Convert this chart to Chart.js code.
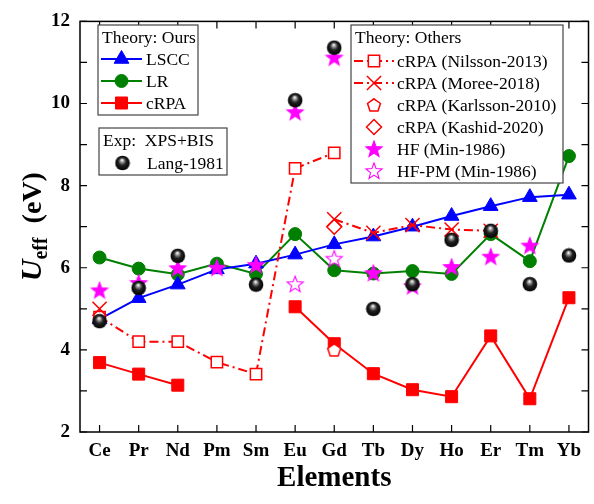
<!DOCTYPE html>
<html>
<head>
<meta charset="utf-8">
<script src="https://cdn.jsdelivr.net/npm/chart.js@4.4.1/dist/chart.umd.min.js"></script>
<style>
  html, body { margin: 0; padding: 0; background: #fff; overflow: hidden; }
  #wrap { width: 594px; height: 504px; overflow: hidden; }
</style>
</head>
<body>
<div id="wrap"><canvas id="grafico_ueff" width="600" height="504"></canvas></div>
<script>
// valores (eV)
const elementos = ['Ce', 'Pr', 'Nd', 'Pm', 'Sm', 'Eu', 'Gd', 'Tb', 'Dy', 'Ho', 'Er', 'Tm', 'Yb'];
const lscc = [4.75, 5.26, 5.59, 5.96, 6.1, 6.32, 6.57, 6.76, 7.0, 7.26, 7.5, 7.72, 7.78];
const lr = [6.25, 5.98, 5.84, 6.1, 5.85, 6.82, 5.94, 5.86, 5.92, 5.85, 6.82, 6.16, 8.72];
const crpa = [3.69, 3.41, 3.14, null, null, 5.05, 4.15, 3.42, 3.03, 2.86, 4.34, 2.81, 5.27];
const nilsson2013 = [4.8, 4.2, 4.2, 3.7, 3.41, 8.42, 8.8, null, null, null, null, null, null];
const moree2018 = [5.0, null, null, null, null, null, 7.18, 6.85, 7.04, 6.93, 6.9, null, null];
const karlsson2010 = [null, null, null, null, null, null, 4.0, null, null, null, null, null, null];
const kashid2020 = [null, null, null, null, null, null, 7.0, null, null, null, null, null, null];
const hfMin1986 = [5.45, 5.63, 5.99, 6.0, 6.07, 9.79, 11.12, 5.87, 5.55, 6.02, 6.27, 6.54, null];
const hfpmMin1986 = [null, null, null, null, null, 5.6, 6.22, null, null, null, null, null, null];
const lang1981 = [4.7, 5.51, 6.29, null, 5.59, 10.08, 11.36, 5.0, 5.6, 6.68, 6.9, 5.6, 6.3];
const yTicks = [2, 4, 6, 8, 10, 12];

const AZUL = 'rgb(0, 0, 255)';
const VERDE = 'rgb(0, 128, 0)';
const VERMELHO = 'rgb(255, 0, 0)';
const MAGENTA = 'rgb(255, 0, 255)';
const FONTE = '"Liberation Serif", "Times New Roman", serif';

// marcadores que o Chart.js nao tem
function criarEstrela(cheia) {
    var c = document.createElement('canvas');
    c.width = 20; c.height = 20;
    var ctx = c.getContext('2d');
    ctx.beginPath();
    for (var i = 0; i < 10; i++) {
        var r = i % 2 == 0 ? 8.5 : 3.6;
        var a = -Math.PI / 2 + i * Math.PI / 5;
        var px = 10 + r * Math.cos(a), py = 10.5 + r * Math.sin(a);
        if (i == 0) ctx.moveTo(px, py); else ctx.lineTo(px, py);
    }
    ctx.closePath();
    if (cheia) { ctx.fillStyle = MAGENTA; ctx.fill(); }
    ctx.strokeStyle = MAGENTA;
    ctx.lineWidth = 1.1;
    ctx.stroke();
    return c;
}

function criarPentagono() {
    var c = document.createElement('canvas');
    c.width = 18; c.height = 18;
    var ctx = c.getContext('2d');
    ctx.beginPath();
    for (var i = 0; i < 5; i++) {
        var a = -Math.PI / 2 + i * 2 * Math.PI / 5;
        var px = 9 + 6.8 * Math.cos(a), py = 9.6 + 6.8 * Math.sin(a);
        if (i == 0) ctx.moveTo(px, py); else ctx.lineTo(px, py);
    }
    ctx.closePath();
    ctx.fillStyle = '#fff';
    ctx.fill();
    ctx.strokeStyle = VERMELHO;
    ctx.lineWidth = 1.5;
    ctx.stroke();
    return c;
}

function criarBola() {
    var c = document.createElement('canvas');
    c.width = 16; c.height = 16;
    var ctx = c.getContext('2d');
    var g = ctx.createRadialGradient(7.5, 5, 0.3, 8, 8, 7.5);
    g.addColorStop(0, '#ffffff');
    g.addColorStop(0.2, '#9a9a9a');
    g.addColorStop(0.5, '#222');
    g.addColorStop(1, '#000');
    ctx.beginPath();
    ctx.arc(8, 8, 7.3, 0, Math.PI * 2);
    ctx.fillStyle = g;
    ctx.fill();
    return c;
}

const estrelaCheia = criarEstrela(true);
const estrelaVazia = criarEstrela(false);
const pentagono = criarPentagono();
const bola = criarBola();

function serie(label, data, cor, estilo, extra) {
    var ds = {
        label: label,
        data: data,
        borderColor: cor,
        backgroundColor: cor,
        pointBackgroundColor: cor,
        pointBorderColor: cor,
        pointStyle: estilo,
        pointRadius: 7,
        pointHoverRadius: 7,
        pointBorderWidth: 1,
        borderWidth: 2,
        showLine: true,
        spanGaps: false,
        clip: false
    };
    for (var k in extra) ds[k] = extra[k];
    return ds;
}

const dados = {
    labels: elementos,
    datasets: [
        serie('Lang-1981', lang1981, '#000', bola, { showLine: false, order: 0 }),
        serie('HF-PM (Min-1986)', hfpmMin1986, MAGENTA, estrelaVazia, { showLine: false, order: 1 }),
        serie('HF (Min-1986)', hfMin1986, MAGENTA, estrelaCheia, { showLine: false, order: 2 }),
        serie('cRPA (Kashid-2020)', kashid2020, VERMELHO, 'rectRot', { showLine: false, order: 3, pointRadius: 7.5, pointBackgroundColor: 'rgba(0,0,0,0)', pointBorderWidth: 1.5 }),
        serie('cRPA (Karlsson-2010)', karlsson2010, VERMELHO, pentagono, { showLine: false, order: 4 }),
        serie('cRPA (Moree-2018)', moree2018, VERMELHO, 'crossRot', { order: 5, pointRadius: 10, pointBorderWidth: 1.5, borderDash: [9, 4, 2, 4] }),
        serie('cRPA (Nilsson-2013)', nilsson2013, VERMELHO, 'rect', { order: 6, pointRadius: 8, pointBackgroundColor: '#fff', pointBorderWidth: 1.5, borderDash: [9, 4, 2, 4] }),
        serie('cRPA', crpa, VERMELHO, 'rect', { order: 7, pointRadius: 8.5 }),
        serie('LSCC', lscc, AZUL, 'triangle', { order: 8, pointRadius: 8.5 }),
        serie('LR', lr, VERDE, 'circle', { order: 9, pointRadius: 6.5 })
    ]
};

// desenha um marcador da legenda igual ao do grafico
function marcador(ctx, ds, x, y) {
    var st = ds.pointStyle, r = ds.pointRadius;
    ctx.save();
    if (typeof st != 'string') {
        ctx.drawImage(st, x - st.width / 2, y - st.height / 2);
        ctx.restore();
        return;
    }
    ctx.fillStyle = ds.pointBackgroundColor;
    ctx.strokeStyle = ds.pointBorderColor;
    ctx.lineWidth = ds.pointBorderWidth;
    ctx.beginPath();
    if (st == 'circle') {
        ctx.arc(x, y, r, 0, Math.PI * 2);
    } else if (st == 'rect') {
        var s = Math.SQRT1_2 * r;
        ctx.rect(x - s, y - s, 2 * s, 2 * s);
    } else if (st == 'rectRot') {
        ctx.moveTo(x - r, y); ctx.lineTo(x, y - r); ctx.lineTo(x + r, y); ctx.lineTo(x, y + r); ctx.closePath();
    } else if (st == 'triangle') {
        for (var i = 0; i < 3; i++) {
            var a = i * 2 * Math.PI / 3;
            if (i == 0) ctx.moveTo(x + Math.sin(a) * r, y - Math.cos(a) * r);
            else ctx.lineTo(x + Math.sin(a) * r, y - Math.cos(a) * r);
        }
        ctx.closePath();
    } else if (st == 'crossRot') {
        var o = Math.SQRT1_2 * r;
        ctx.moveTo(x - o, y - o); ctx.lineTo(x + o, y + o);
        ctx.moveTo(x + o, y - o); ctx.lineTo(x - o, y + o);
        ctx.stroke();
        ctx.restore();
        return;
    }
    ctx.fill();
    ctx.stroke();
    ctx.restore();
}

function caixaLegenda(ctx, caixa) {
    ctx.save();
    ctx.fillStyle = '#fff';
    ctx.fillRect(caixa.x, caixa.y, caixa.w, caixa.h);
    ctx.strokeStyle = '#444';
    ctx.lineWidth = 1.2;
    ctx.strokeRect(caixa.x, caixa.y, caixa.w, caixa.h);
    ctx.fillStyle = '#000';
    ctx.font = '17.5px ' + FONTE;
    ctx.textBaseline = 'middle';
    ctx.fillText(caixa.titulo, caixa.x + 4, caixa.y + 13);
    caixa.itens.forEach(function (item, i) {
        var ds = dados.datasets.find(function (d) { return d.label == item; });
        var y = caixa.y + caixa.y0 + i * caixa.passo;
        if (ds.showLine !== false) {
            ctx.save();
            ctx.strokeStyle = ds.borderColor;
            ctx.lineWidth = 2;
            ctx.setLineDash(ds.borderDash || []);
            ctx.beginPath();
            ctx.moveTo(caixa.x + 3, y);
            ctx.lineTo(caixa.x + 3 + caixa.linha, y);
            ctx.stroke();
            ctx.restore();
        }
        marcador(ctx, ds, caixa.x + 3 + caixa.linha / 2, y);
        ctx.fillStyle = '#000';
        ctx.fillText(item, caixa.x + caixa.xt, y + 1);
    });
    ctx.restore();
}

const legendas = [
    { x: 98, y: 25, w: 100, h: 90, titulo: 'Theory: Ours', y0: 34, passo: 22, linha: 41, xt: 48,
      itens: ['LSCC', 'LR', 'cRPA'] },
    { x: 99, y: 128, w: 128, h: 47, titulo: 'Exp:  XPS+BIS', y0: 35, passo: 22, linha: 41, xt: 48,
      itens: ['Lang-1981'] },
    { x: 351, y: 25, w: 212, h: 158, titulo: 'Theory: Others', y0: 36, passo: 22, linha: 40, xt: 46,
      itens: ['cRPA (Nilsson-2013)', 'cRPA (Moree-2018)', 'cRPA (Karlsson-2010)', 'cRPA (Kashid-2020)', 'HF (Min-1986)', 'HF-PM (Min-1986)'] }
];

// moldura com tracinhos para dentro nos quatro lados
const moldura = {
    id: 'moldura',
    afterDraw: function (chart) {
        var ctx = chart.ctx, a = chart.chartArea;
        var sx = chart.scales.x, sy = chart.scales.y;
        var t = 7;
        ctx.save();
        ctx.strokeStyle = '#000';
        ctx.lineWidth = 1.5;
        ctx.strokeRect(a.left, a.top, a.right - a.left, a.bottom - a.top);
        ctx.lineWidth = 1.2;
        ctx.beginPath();
        elementos.forEach(function (e, i) {
            var x = sx.getPixelForValue(i);
            ctx.moveTo(x, a.bottom); ctx.lineTo(x, a.bottom - t);
            ctx.moveTo(x, a.top); ctx.lineTo(x, a.top + t);
        });
        for (var v = sy.min; v <= sy.max; v++) {
            var y = sy.getPixelForValue(v);
            ctx.moveTo(a.left, y); ctx.lineTo(a.left + t, y);
            ctx.moveTo(a.right, y); ctx.lineTo(a.right - t, y);
        }
        ctx.stroke();
        ctx.restore();

        legendas.forEach(function (c) { caixaLegenda(ctx, c); });

        // titulo do eixo y: U_eff (eV)
        ctx.save();
        ctx.translate(41, (a.top + a.bottom) / 2);
        ctx.rotate(-Math.PI / 2);
        ctx.fillStyle = '#000';
        ctx.textBaseline = 'alphabetic';
        var fU = 'italic bold 30px ' + FONTE, fSub = 'bold 20px ' + FONTE, fEv = 'bold 28px ' + FONTE;
        ctx.font = fU; var wU = ctx.measureText('U').width;
        ctx.font = fSub; var wS = ctx.measureText('eff').width;
        ctx.font = fEv; var wE = ctx.measureText('  (eV)').width;
        var x0 = -(wU + wS + wE) / 2;
        ctx.font = fU; ctx.fillText('U', x0, 0);
        ctx.font = fSub; ctx.fillText('eff', x0 + wU, 6);
        ctx.font = fEv; ctx.fillText('  (eV)', x0 + wU + wS, 0);
        ctx.restore();
    }
};

const config = {
    type: 'line',
    data: dados,
    options: {
        responsive: false,
        animation: false,
        devicePixelRatio: 1,
        layout: { padding: { top: 15, right: 3, left: 0, bottom: 0 } },
        plugins: {
            legend: { display: false },
            tooltip: { enabled: false }
        },
        scales: {
            x: {
                type: 'category',
                offset: true,
                grid: { display: false, drawTicks: false },
                border: { display: false },
                ticks: {
                    color: '#000',
                    font: { family: FONTE, size: 19, weight: 'bold' },
                    padding: 8,
                    autoSkip: false,
                    maxRotation: 0
                },
                title: {
                    display: true,
                    text: 'Elements',
                    color: '#000',
                    font: { family: FONTE, size: 29, weight: 'bold' },
                    padding: { top: 0, bottom: 8 }
                },
                afterFit: function (scale) { scale.height = 72; }
            },
            y: {
                min: 2,
                max: 12,
                grid: { display: false, drawTicks: false },
                border: { display: false },
                afterBuildTicks: function (scale) {
                    scale.ticks = yTicks.map(function (v) { return { value: v }; });
                },
                ticks: {
                    color: '#000',
                    font: { family: FONTE, size: 19, weight: 'bold' },
                    padding: 10
                },
                afterFit: function (scale) { scale.width = 80; }
            }
        }
    },
    plugins: [moldura]
};

const grafico = new Chart(document.getElementById('grafico_ueff'), config);
</script>
</body>
</html>
